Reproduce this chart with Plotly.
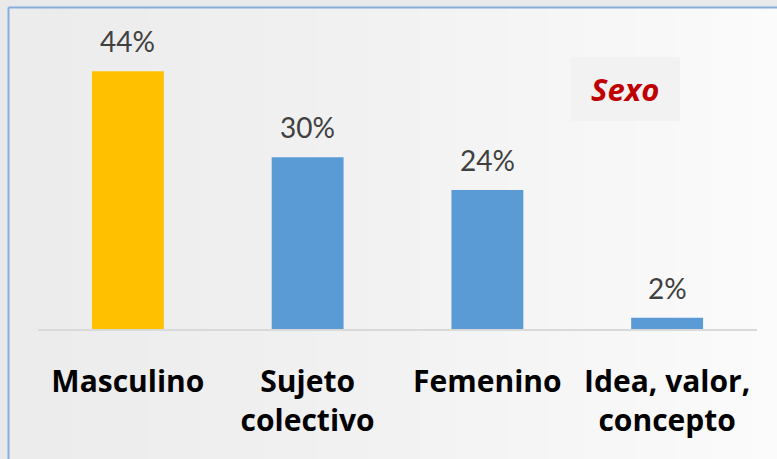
import plotly.graph_objects as go

categories = ["Masculino", "Sujeto<br>colectivo", "Femenino", "Idea, valor,<br>concepto"]
values = [44, 29.3, 23.7, 1.9]
labels = ["44%", "30%", "24%", "2%"]
bar_colors = ["#FFC000", "#5B9BD5", "#5B9BD5", "#5B9BD5"]
legend_title = "Sexo"

W, H = 777, 459
ml, mr, mt, mb = 38, 20, 36, 130
pw, ph = W - ml - mr, H - mt - mb

def px_x(x):
    return (x - ml) / pw

def px_y(y):
    return (H - mb - y) / ph

fig = go.Figure()
fig.add_trace(go.Bar(
    x=categories, y=values, marker=dict(color=bar_colors, line=dict(width=0)),
    width=0.4, hoverinfo="skip",
))

for c, v, t in zip(categories, values, labels):
    fig.add_annotation(x=c, y=v, text=t, showarrow=False, yanchor="bottom", yshift=11,
                       font=dict(family="Lato", size=28, color="#404040"))

shapes = []
n = 60
x0p, x1p = 9, W
for i in range(n):
    a = x0p + (x1p - x0p) * i / n
    b = x0p + (x1p - x0p) * (i + 1) / n
    t = i / (n - 1)
    g = int(round(236 + (251 - 236) * t ** 1.3))
    shapes.append(dict(type="rect", xref="paper", yref="paper", layer="below",
                       x0=px_x(a), x1=px_x(b) + 0.002, y0=px_y(H), y1=px_y(8),
                       fillcolor=f"rgb({g},{g},{g})", line=dict(width=0)))
shapes.append(dict(type="line", xref="paper", yref="paper", x0=px_x(8.5), x1=px_x(8.5),
                   y0=px_y(7.5), y1=px_y(H + 2), line=dict(color="#85AEDC", width=2)))
shapes.append(dict(type="line", xref="paper", yref="paper", x0=px_x(8.5), x1=px_x(W + 2),
                   y0=px_y(7.5), y1=px_y(7.5), line=dict(color="#85AEDC", width=2)))
shapes.append(dict(type="rect", xref="paper", yref="paper", x0=px_x(571), x1=px_x(680),
                   y0=px_y(121), y1=px_y(57), fillcolor="#F2F2F2", line=dict(width=0)))
fig.add_annotation(xref="paper", yref="paper", x=px_x(625), y=px_y(89), text="<b><i>" + legend_title + "</i></b>",
                   showarrow=False, xanchor="center", yanchor="middle",
                   font=dict(family="Open Sans", size=31, color="#C00000"))

fig.update_layout(
    width=W, height=H, margin=dict(l=ml, r=mr, t=mt, b=mb),
    paper_bgcolor="#E9E9E9", plot_bgcolor="rgba(0,0,0,0)",
    showlegend=False, shapes=shapes,
    xaxis=dict(showline=True, linecolor="#D9D9D9", linewidth=1.5, showgrid=False,
               ticks="", ticklabelstandoff=25,
               tickfont=dict(family="Open Sans", size=30, color="#000000", weight="bold")),
    yaxis=dict(range=[0, 50], visible=False, showgrid=False, zeroline=False),
)

fig.write_html("out.html", config={"displayModeBar": False},
               post_script="document.body.style.margin='0';document.body.style.overflow='hidden';")
